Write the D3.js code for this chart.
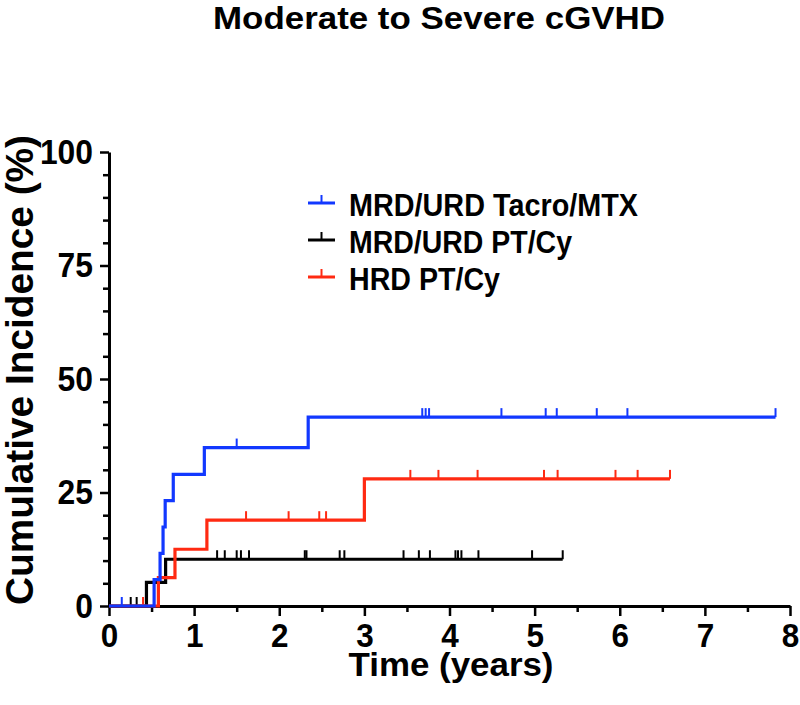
<!DOCTYPE html>
<html>
<head>
<meta charset="utf-8">
<script src="https://cdn.jsdelivr.net/npm/d3@7"></script>
<style>
  body { margin: 0; background: #fff; }
  text { font-family: "Liberation Sans", Arial, sans-serif; font-weight: bold; }
</style>
</head>
<body>
<div id="chart"></div>
<script>
// series labels + colours
const seriesNames = ["MRD/URD Tacro/MTX", "MRD/URD PT/Cy", "HRD PT/Cy"];
const seriesColors = ["#1238ff", "#000000", "#ff2a12"];

// step times (years) and cumulative incidence (%) at each step
const tacroTimes = [0, 0.53, 0.60, 0.635, 0.66, 0.755, 1.12, 2.34];
const tacroValues = [0, 5.8, 11.6, 17.4, 23.2, 29.0, 34.9, 41.6];
const tacroEnd = 7.83;
const tacroCensor = [0.15, 1.50, 3.68, 3.72, 3.76, 4.61, 5.13, 5.26, 5.73, 6.09, 7.83];

const ptcyTimes = [0, 0.44, 0.665];
const ptcyValues = [0, 5.2, 10.3];
const ptcyEnd = 5.33;
const ptcyCensor = [0.255, 0.325, 1.27, 1.36, 1.50, 1.55, 1.645, 2.30, 2.32, 2.71, 2.765,
  3.46, 3.64, 3.77, 4.07, 4.10, 4.14, 4.34, 4.97, 5.33];

const hrdTimes = [0, 0.58, 0.775, 1.15, 3.0];
const hrdValues = [0, 6.25, 12.5, 18.9, 28.0];
const hrdEnd = 6.59;
const hrdCensor = [0.40, 1.61, 2.11, 2.47, 2.55, 3.54, 3.87, 4.33, 5.11, 5.27, 5.95, 6.21, 6.59];

// axis ticks
const xTicks = [0, 1, 2, 3, 4, 5, 6, 7, 8];
const xMinor = [0.5, 1.5, 2.5, 3.5, 4.5, 5.5, 6.5, 7.5];
const yTicks = [0, 25, 50, 75, 100];
const yMinor = [5, 10, 15, 20, 30, 35, 40, 45, 55, 60, 65, 70, 80, 85, 90, 95];

const chartTitle = "Moderate to Severe cGVHD";
const xTitle = "Time (years)";
const yTitle = "Cumulative Incidence (%)";

const width = 800, height = 705;
const svg = d3.select("#chart").append("svg")
  .attr("width", width)
  .attr("height", height);

const x = d3.scaleLinear().domain([0, 8]).range([109, 790]);
const y = d3.scaleLinear().domain([0, 100]).range([606, 152]);

// title
svg.append("text")
  .attr("x", 213).attr("y", 29)
  .attr("font-size", 32)
  .attr("textLength", 452).attr("lengthAdjust", "spacingAndGlyphs")
  .text(chartTitle);

// axes
const yAxis = svg.append("g").attr("transform", `translate(${x(0)},0)`)
  .call(d3.axisLeft(y).tickValues(yTicks).tickSize(9).tickSizeOuter(0).tickPadding(7));
svg.append("g").attr("transform", `translate(${x(0)},0)`)
  .call(d3.axisLeft(y).tickValues(yMinor).tickSize(6).tickFormat(""))
  .select(".domain").remove();

const xAxis = svg.append("g").attr("transform", `translate(0,${y(0)})`)
  .call(d3.axisBottom(x).tickValues(xTicks).tickSize(10).tickSizeOuter(0).tickPadding(8));
svg.append("g").attr("transform", `translate(0,${y(0)})`)
  .call(d3.axisBottom(x).tickValues(xMinor).tickSize(6).tickFormat(""))
  .select(".domain").remove();

svg.selectAll(".domain").attr("stroke", "#000").attr("stroke-width", 3);
svg.selectAll(".tick line").attr("stroke", "#000").attr("stroke-width", 2.5);

yAxis.selectAll("text")
  .attr("font-size", 35).attr("fill", "#000")
  .attr("font-family", "Liberation Sans, Arial, sans-serif").attr("font-weight", "bold")
  .attr("textLength", d => String(d).length * 17.7).attr("lengthAdjust", "spacingAndGlyphs");
xAxis.selectAll("text")
  .attr("font-size", 33).attr("fill", "#000")
  .attr("font-family", "Liberation Sans, Arial, sans-serif").attr("font-weight", "bold")
  .attr("textLength", 17.5).attr("lengthAdjust", "spacingAndGlyphs");

// axis titles
svg.append("text")
  .attr("x", 451).attr("y", 676)
  .attr("text-anchor", "middle")
  .attr("font-size", 34)
  .attr("textLength", 205).attr("lengthAdjust", "spacingAndGlyphs")
  .text(xTitle);

svg.append("text")
  .attr("transform", "translate(33,370) rotate(-90)")
  .attr("text-anchor", "middle")
  .attr("font-size", 38)
  .attr("textLength", 470).attr("lengthAdjust", "spacingAndGlyphs")
  .text(yTitle);

// curves
const series = [
  { times: ptcyTimes, values: ptcyValues, end: ptcyEnd, censor: ptcyCensor, color: seriesColors[1] },
  { times: hrdTimes, values: hrdValues, end: hrdEnd, censor: hrdCensor, color: seriesColors[2] },
  { times: tacroTimes, values: tacroValues, end: tacroEnd, censor: tacroCensor, color: seriesColors[0] }
];

const line = d3.line()
  .x(d => x(d[0]))
  .y(d => y(d[1]))
  .curve(d3.curveStepAfter);

function valueAt(s, t) {
  let v = s.values[0];
  s.times.forEach((tt, i) => { if (tt <= t) v = s.values[i]; });
  return v;
}

series.forEach(s => {
  const pts = s.times.map((t, i) => [t, s.values[i]]);
  pts.push([s.end, s.values[s.values.length - 1]]);
  const g = svg.append("g");
  g.append("path")
    .attr("d", line(pts))
    .attr("fill", "none")
    .attr("stroke", s.color)
    .attr("stroke-width", 3.2);
  g.selectAll("line")
    .data(s.censor)
    .enter()
    .append("line")
    .attr("x1", d => x(d)).attr("x2", d => x(d))
    .attr("y1", d => y(valueAt(s, d)))
    .attr("y2", d => y(valueAt(s, d)) - 9)
    .attr("stroke", s.color)
    .attr("stroke-width", 2);
});

// legend
const legend = svg.selectAll(".legend")
  .data(seriesNames)
  .enter()
  .append("g")
  .attr("class", "legend")
  .attr("transform", (d, i) => `translate(0,${216 + i * 37})`);

legend.append("line")
  .attr("x1", 308).attr("x2", 335)
  .attr("y1", -13).attr("y2", -13)
  .attr("stroke", (d, i) => seriesColors[i])
  .attr("stroke-width", 3);
legend.append("line")
  .attr("x1", 321.5).attr("x2", 321.5)
  .attr("y1", -13).attr("y2", -21)
  .attr("stroke", (d, i) => seriesColors[i])
  .attr("stroke-width", 2);

const legendWidths = [289, 223, 151];
legend.append("text")
  .attr("x", 349).attr("y", 0)
  .attr("font-size", 32)
  .attr("textLength", (d, i) => legendWidths[i]).attr("lengthAdjust", "spacingAndGlyphs")
  .text(d => d);
</script>
</body>
</html>
